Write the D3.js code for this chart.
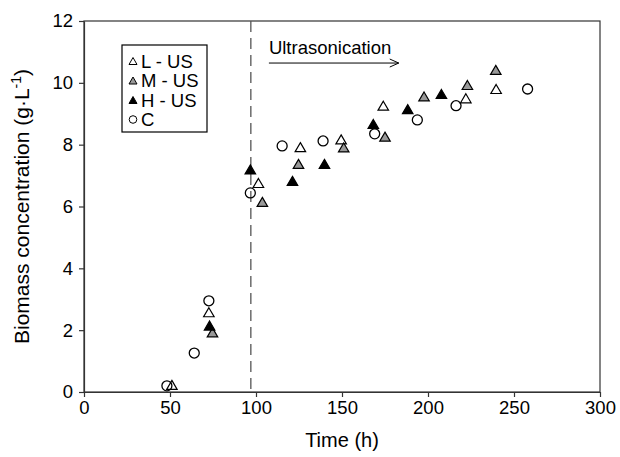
<!DOCTYPE html>
<html>
<head>
<meta charset="utf-8">
<script src="https://cdn.jsdelivr.net/npm/d3@7"></script>
<style>
  body { margin: 0; background: #fff; }
  text { font-family: "Liberation Sans", Arial, sans-serif; fill: #000; }
</style>
</head>
<body>
<div id="svgDiv"></div>
<script>
// data (time in h, biomass in g/L)
const cTime = [48.2, 64.1, 72.6, 96.7, 115.2, 139, 169, 193.8, 216.3, 257.9]
const cVal  = [0.2, 1.26, 2.95, 6.44, 7.96, 8.12, 8.35, 8.8, 9.26, 9.8]
const lTime = [51.1, 72.6, 101.4, 125.8, 149.5, 174, 222, 239.6]
const lVal  = [0.23, 2.58, 6.76, 7.92, 8.17, 9.26, 9.5, 9.8]
const mTime = [74.7, 103.7, 124.7, 151, 175, 197.7, 222.9, 239.4]
const mVal  = [1.93, 6.15, 7.38, 7.91, 8.26, 9.56, 9.93, 10.42]
const hTime = [73, 96.7, 121.2, 139.8, 168.2, 188.2, 207.8]
const hVal  = [2.15, 7.2, 6.83, 7.38, 8.67, 9.15, 9.64]

const xTicks = [0, 50, 100, 150, 200, 250, 300]
const yTicks = [0, 2, 4, 6, 8, 10, 12]
const usStart = 97      // start of ultrasonication (h)
const arrowTime = [107.5, 183]

const width = 620, height = 457
const margin = {top: 21, right: 20, bottom: 65, left: 84}

var svg = d3.select('#svgDiv')
    .append('svg')
    .attr('width', width)
    .attr('height', height)

var x = d3.scaleLinear()
    .domain([0, 300])
    .range([margin.left, width - margin.right])

var y = d3.scaleLinear()
    .domain([0, 12])
    .range([height - margin.bottom, margin.top])

// frame
svg.append('rect')
    .attr('x', x(0))
    .attr('y', y(12))
    .attr('width', x(300) - x(0))
    .attr('height', y(0) - y(12))
    .style('fill', 'none')
    .style('stroke', '#333')
    .style('stroke-width', 1.2)

// axes
svg.append('g')
    .attr('transform', 'translate(0,' + y(0) + ')')
    .call(d3.axisBottom(x).tickValues(xTicks).tickSize(5).tickSizeOuter(0).tickPadding(4))
svg.append('g')
    .attr('transform', 'translate(' + x(0) + ',0)')
    .call(d3.axisLeft(y).tickValues(yTicks).tickSize(5).tickSizeOuter(0).tickPadding(6))

svg.selectAll('.domain').style('stroke', '#333').style('stroke-width', 1.2)
svg.selectAll('.tick line').style('stroke', '#333').style('stroke-width', 1.2)
svg.selectAll('.tick text')
    .style('font-size', '18.5px')
    .style('font-family', '"Liberation Sans", Arial, sans-serif')
    .style('fill', '#000')

// axis titles
svg.append('text')
    .attr('x', (x(0) + x(300)) / 2)
    .attr('y', 447)
    .attr('text-anchor', 'middle')
    .style('font-size', '20px')
    .text('Time (h)')

var yTitle = svg.append('text')
    .attr('transform', 'translate(29,' + ((y(0) + y(12)) / 2) + ') rotate(-90)')
    .attr('text-anchor', 'middle')
    .style('font-size', '21px')
yTitle.append('tspan').text('Biomass concentration (g\u00b7L')
yTitle.append('tspan').attr('dy', -8).style('font-size', '14px').text('-1')
yTitle.append('tspan').attr('dy', 8).text(')')

// ultrasonication start line
svg.append('line')
    .attr('x1', x(usStart)).attr('x2', x(usStart))
    .attr('y1', y(12)).attr('y2', y(0))
    .style('stroke', '#555')
    .style('stroke-width', 1.3)
    .style('stroke-dasharray', '11,6')

svg.append('text')
    .attr('x', x(arrowTime[0]))
    .attr('y', y(10.93))
    .style('font-size', '18.5px')
    .text('Ultrasonication')

var ay = y(10.64)
svg.append('line')
    .attr('x1', x(arrowTime[0])).attr('x2', x(arrowTime[1]))
    .attr('y1', ay).attr('y2', ay)
    .style('stroke', '#000').style('stroke-width', 1)
svg.append('path')
    .attr('d', 'M' + (x(arrowTime[1]) - 9) + ',' + (ay - 4) + 'L' + x(arrowTime[1]) + ',' + ay + 'L' + (x(arrowTime[1]) - 9) + ',' + (ay + 4))
    .style('fill', 'none').style('stroke', '#000').style('stroke-width', 1)

// markers
const triW = 10.5, triH = 9
const triPath = 'M0,' + (-triH / 2) + 'L' + (triW / 2) + ',' + (triH / 2) + 'L' + (-triW / 2) + ',' + (triH / 2) + 'Z'

function plotTriangles(times, vals, fill){
    svg.append('g')
        .selectAll('path')
        .data(times.map((t, i) => [t, vals[i]]))
        .join('path')
        .attr('d', triPath)
        .attr('transform', d => 'translate(' + x(d[0]) + ',' + y(d[1]) + ')')
        .style('fill', fill)
        .style('stroke', '#000')
        .style('stroke-width', 1.2)
}

plotTriangles(lTime, lVal, '#fff')
plotTriangles(mTime, mVal, '#999')
plotTriangles(hTime, hVal, '#000')

svg.append('g')
    .selectAll('circle')
    .data(cTime.map((t, i) => [t, cVal[i]]))
    .join('circle')
    .attr('cx', d => x(d[0]))
    .attr('cy', d => y(d[1]))
    .attr('r', 5)
    .style('fill', 'none')
    .style('stroke', '#000')
    .style('stroke-width', 1.3)

// legend
const legendNames = ['L - US', 'M - US', 'H - US', 'C']
const legendFill = ['#fff', '#999', '#000', 'none']

var legend = svg.append('g')
legend.append('rect')
    .attr('x', 122).attr('y', 45)
    .attr('width', 85).attr('height', 87)
    .style('fill', '#fff')
    .style('stroke', '#000')
    .style('stroke-width', 1.2)

legendNames.forEach(function(name, i){
    var cy = 61 + i * 19.5
    if (i < 3) {
        legend.append('path')
            .attr('d', 'M0,-3.5L4,3.5L-4,3.5Z')
            .attr('transform', 'translate(133,' + cy + ')')
            .style('fill', legendFill[i])
            .style('stroke', '#000')
            .style('stroke-width', 1)
    } else {
        legend.append('circle')
            .attr('cx', 133).attr('cy', cy).attr('r', 3.8)
            .style('fill', 'none').style('stroke', '#000').style('stroke-width', 1)
    }
    legend.append('text')
        .attr('x', 141)
        .attr('y', cy + 6.5)
        .style('font-size', '18.5px')
        .text(name)
})
</script>
</body>
</html>
